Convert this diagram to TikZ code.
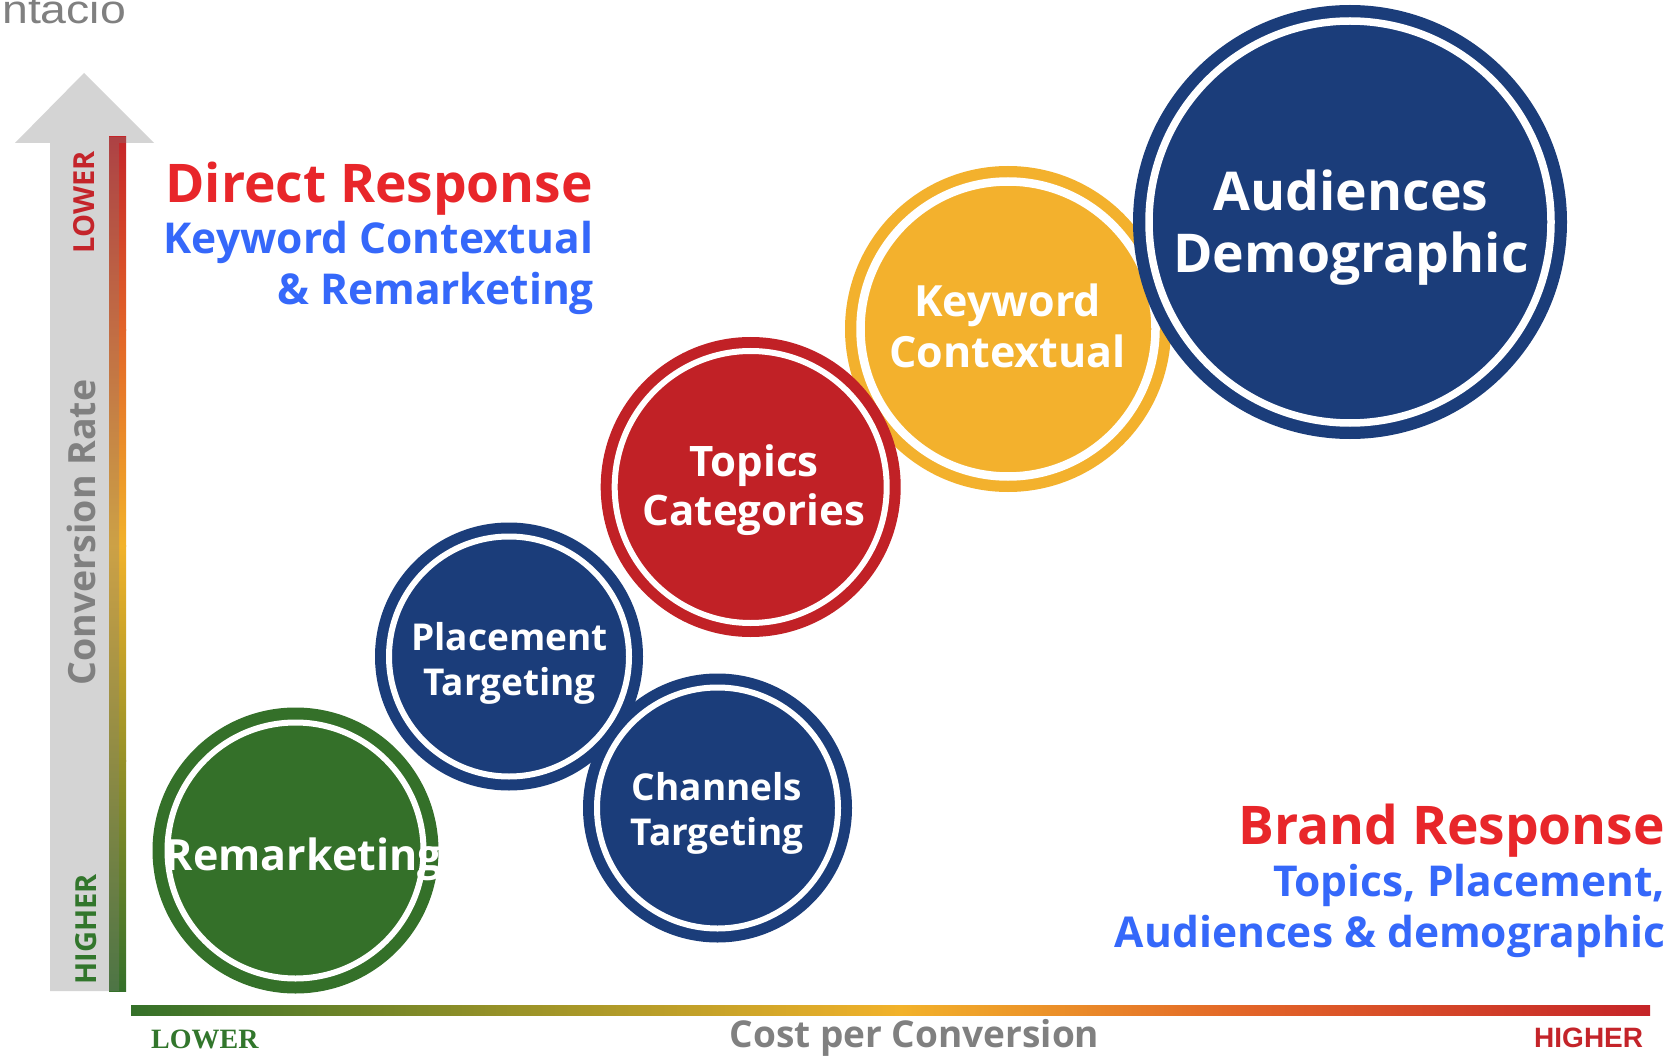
\documentclass[tikz,border=0pt]{standalone}
\usepackage{fontspec}
\setmainfont{Open Sans}
\newfontfamily\lsans{Liberation Sans}
\newfontfamily\lserif{Liberation Serif}
\definecolor{cnavy}{RGB}{27,61,122}
\definecolor{cgreen}{RGB}{52,112,41}
\definecolor{cred}{RGB}{193,33,38}
\definecolor{cyellow}{RGB}{243,177,45}
\definecolor{hred}{RGB}{232,38,42}
\definecolor{hblue}{RGB}{53,104,250}
\definecolor{tgray}{RGB}{128,128,128}
\definecolor{agray}{RGB}{212,212,212}
\definecolor{axred}{RGB}{196,36,42}
\definecolor{axgreen}{RGB}{50,118,44}
\definecolor{gA}{RGB}{197,36,40}
\definecolor{gB}{RGB}{226,100,40}
\definecolor{gC}{RGB}{242,178,42}
\definecolor{gD}{RGB}{150,145,40}
\definecolor{gE}{RGB}{52,112,41}
\begin{document}
\begin{tikzpicture}[x=1pt,y=-1pt,
  bubble/.style={circle, inner sep=0pt, outer sep=0pt, minimum size=#1},
  ring/.style={draw=white, line width=#1},
  btxt/.style={text=white, font=\bfseries\fontsize{#1}{#1}\selectfont, inner sep=0pt, outer sep=0pt, anchor=base},
  head/.style={text=hred, font=\bfseries\fontsize{53.3}{53.3}\selectfont, inner sep=0pt, outer sep=0pt, anchor=base east},
  sub/.style={text=hblue, font=\bfseries\fontsize{42.5}{42.5}\selectfont, inner sep=0pt, outer sep=0pt, anchor=base east},
  vlab/.style={rotate=90, anchor=base, inner sep=0pt, outer sep=0pt, font=\bfseries\fontsize{#1}{#1}\selectfont},
  seg/.style={draw=none}
]
\useasboundingbox (0,0) rectangle (1678,1056);
\clip (0,0) rectangle (1678,1056);
\fill[white] (0,0) rectangle (1678,1056);

% cut-off title fragment
\node[anchor=base west, inner sep=0pt, text=tgray, font=\lsans\fontsize{40}{40}\selectfont, xscale=1.16] (frag) at (2,23.5) {ntacio};

% vertical gray arrow
\fill[agray] (84,73) -- (154,143) -- (119,143) -- (119,991) -- (50,991) -- (50,143) -- (15,143) -- cycle;

% vertical gradient bar
\shade[seg, top color=gA, bottom color=gB] (109,137) rectangle (126,331);
\shade[seg, top color=gB, bottom color=gC] (109,330) rectangle (126,546);
\shade[seg, top color=gC, bottom color=gD] (109,545) rectangle (126,761);
\shade[seg, top color=gD, bottom color=gE] (109,760) rectangle (126,991);
\begin{scope}
\clip (84,73) -- (154,143) -- (119,143) -- (119,991) -- (50,991) -- (50,143) -- (15,143) -- cycle;
\fill[gray, opacity=0.33] (109,137) rectangle (126,991);
\end{scope}

% horizontal gradient bar
\shade[seg, left color=gE, right color=gD] (131,1005) rectangle (501,1015);
\shade[seg, left color=gD, right color=gC] (500,1005) rectangle (901,1015);
\shade[seg, left color=gC, right color=gB] (900,1005) rectangle (1251,1015);
\shade[seg, left color=gB, right color=gA] (1250,1005) rectangle (1650,1015);

% axis labels
\node[vlab=29, text=axred] (vlow) at (94,202.5) {LOWER};
\node[vlab=29, text=axgreen] (vhigh) at (96.5,929.5) {HIGHER};
\node[vlab=37.5, text=tgray] (vconv) at (95,532.5) {Conversion Rate};
\node[anchor=base west, inner sep=0pt, text=axgreen, font=\lserif\bfseries\fontsize{28}{28}\selectfont] (hlow) at (151,1048) {LOWER};
\node[anchor=base west, inner sep=0pt, text=axred, font=\lsans\bfseries\fontsize{28}{28}\selectfont] (hhigh) at (1534,1047) {HIGHER};
\node[anchor=base, inner sep=0pt, text=tgray, font=\bfseries\fontsize{37}{37}\selectfont] (cost) at (914.5,1047) {Cost per Conversion};

% headings
\node[head] (dr) at (593,203) {Direct Response};
\node[sub] (dr1) at (593,254) {Keyword Contextual};
\node[sub] (dr2) at (594,305) {\& Remarketing};
\node[head] (br) at (1665,844) {Brand Response};
\node[sub] (br1) at (1665,896) {Topics, Placement,};
\node[sub] (br2) at (1665,947) {Audiences \& demographic};

% bubbles
\node[bubble=286pt, fill=cgreen] (rem) at (295.5,850.5) {};
\draw[ring=6pt] (rem.center) circle[radius=128pt];
\node[btxt=43] (remt) at (303.5,870) {Remarketing};

\node[bubble=268pt, fill=cnavy] (plc) at (509,656.5) {};
\draw[ring=6pt] (plc.center) circle[radius=120pt];
\node[btxt=37] (plct1) at (509.5,650) {Placement};
\node[btxt=37] (plct2) at (509.5,695) {Targeting};

\node[bubble=269pt, fill=cnavy] (chn) at (717.5,808) {};
\draw[ring=6pt] (chn.center) circle[radius=120.5pt];
\node[btxt=37] (chnt1) at (717,800) {Channels};
\node[btxt=37] (chnt2) at (717,845) {Targeting};

\node[bubble=326pt, fill=cyellow] (kw) at (1008,329) {};
\draw[ring=8.5pt] (kw.center) circle[radius=147.5pt];
\node[btxt=43] (kwt1) at (1007.5,317) {Keyword};
\node[btxt=43] (kwt2) at (1007.5,367) {Contextual};

\node[bubble=300pt, fill=cred] (tp) at (750.7,487) {};
\draw[ring=6pt] (tp.center) circle[radius=136pt];
\node[btxt=42] (tpt1) at (754,476) {Topics};
\node[btxt=42] (tpt2) at (754,525) {Categories};

\node[bubble=434pt, fill=cnavy] (aud) at (1350,222) {};
\draw[ring=7.5pt] (aud.center) circle[radius=201pt];
\node[btxt=53.5] (audt1) at (1351,211) {Audiences};
\node[btxt=53.5] (audt2) at (1351,273) {Demographic};
\end{tikzpicture}
\end{document}
